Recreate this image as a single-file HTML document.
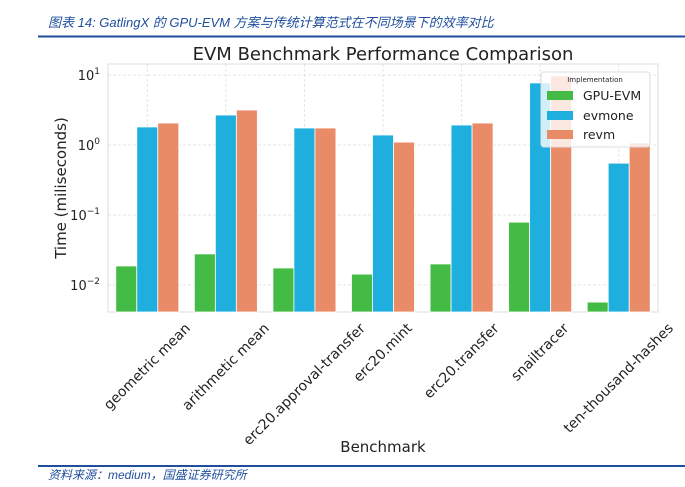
<!DOCTYPE html>
<html><head><meta charset="utf-8"><style>
body{margin:0;background:#fff;width:685px;height:487px;overflow:hidden}
svg{display:block}
</style></head><body>
<svg id="chart" width="685" height="487" xmlns="http://www.w3.org/2000/svg">
<text x="48" y="27" font-family="'Liberation Sans','Noto Sans CJK SC',sans-serif" font-size="13" font-style="italic" fill="#1f4e9c">图表 14:  GatlingX 的 GPU-EVM 方案与传统计算范式在不同场景下的效率对比</text>
<line x1="38" y1="36.5" x2="685" y2="36.5" stroke="#1f4e9c" stroke-width="2"/>
<line x1="38" y1="466" x2="685" y2="466" stroke="#1f4e9c" stroke-width="2"/>
<text x="48" y="479" font-family="'Liberation Sans','Noto Sans CJK SC',sans-serif" font-size="12" font-style="italic" fill="#1f4e9c">资料来源：medium，国盛证券研究所</text>
<text x="383" y="60" text-anchor="middle" font-family="'DejaVu Sans',sans-serif" font-size="18" fill="#222">EVM Benchmark Performance Comparison</text>
<rect x="108" y="64" width="550" height="248" fill="#fff" stroke="#ddd"/>
<g id="grid"></g><g id="bars"></g><g id="axes"></g>
<text x="383" y="452" text-anchor="middle" font-family="'DejaVu Sans',sans-serif" font-size="15" fill="#222">Benchmark</text>
<text transform="translate(66,188) rotate(-90)" text-anchor="middle" font-family="'DejaVu Sans',sans-serif" font-size="15" fill="#222">Time (miliseconds)</text>
<g>
<rect x="541" y="72" width="109" height="75" rx="3" fill="#fff" fill-opacity="0.8" stroke="#ddd"/>
<text x="595" y="82" text-anchor="middle" font-family="'DejaVu Sans',sans-serif" font-size="7" fill="#222">Implementation</text>
<rect x="547" y="91" width="26" height="9" fill="#44bb44"/>
<text x="583" y="100" font-family="'DejaVu Sans',sans-serif" font-size="12.5" fill="#222">GPU-EVM</text>
<rect x="547" y="111" width="26" height="9" fill="#1fafdf"/>
<text x="583" y="120" font-family="'DejaVu Sans',sans-serif" font-size="12.5" fill="#222">evmone</text>
<rect x="547" y="130" width="26" height="9" fill="#ea8b68"/>
<text x="583" y="139" font-family="'DejaVu Sans',sans-serif" font-size="12.5" fill="#222">revm</text>
</g>
</svg>
<script>
const categories=["geometric mean","arithmetic mean","erc20.approval-transfer","erc20.mint","erc20.transfer","snailtracer","ten-thousand-hashes"];
const gpuEvm=[0.0187,0.0278,0.0175,0.0143,0.020,0.079,0.0057];
const evmone=[1.81,2.68,1.75,1.39,1.93,7.7,0.55];
const revm=[2.06,3.16,1.75,1.10,2.06,9.7,1.07];
const yTicks=[-2,-1,0,1];
const NS="http://www.w3.org/2000/svg";
const L=108,R=658,T=64,B=312;
function y(v){return 145-70*Math.log10(v);}
const gw=(R-L)/categories.length;
function cx(i){return L+gw*(i+0.5);}
function mk(tag,attrs,parent){const e=document.createElementNS(NS,tag);for(const k in attrs)e.setAttribute(k,attrs[k]);parent.appendChild(e);return e;}
const grid=document.getElementById('grid'),bars=document.getElementById('bars'),axes=document.getElementById('axes');
yTicks.forEach(p=>{const yy=y(Math.pow(10,p));
 const ln=mk('line',{x1:L,x2:R,y1:yy,y2:yy,stroke:'#e4e4e4','stroke-dasharray':'3,2'},grid);
 
 
 const t=mk('text',{x:L-8,y:yy+5,'text-anchor':'end','font-family':"'DejaVu Sans',sans-serif",'font-size':'13',fill:'#222'},axes);
 
 
 t.textContent='10';
 const s=mk('tspan',{dy:'-6','font-size':'9'},t);s.textContent=String(p).replace('-','−');
});
const series=[[gpuEvm,'#44bb44','gpu-evm'],[evmone,'#1fafdf','evmone'],[revm,'#ea8b68','revm']];
const bw=21;
categories.forEach((c,i)=>{
 const vl=mk('line',{x1:cx(i),x2:cx(i),y1:T,y2:B,stroke:'#e4e4e4','stroke-dasharray':'3,2'},grid);
 
 
 series.forEach((s,j)=>{const v=s[0][i];const yy=y(v);
  const r=mk('rect',{x:cx(i)+(j-1.5)*bw,y:yy,width:bw,height:B-yy,fill:s[1],stroke:'#fff','stroke-width':'0.8'},bars);
  
  
 });
 const t=mk('text',{'text-anchor':'middle','font-family':"'DejaVu Sans',sans-serif",'font-size':'14',fill:'#222'},axes);
 
 
 t.textContent=c;
 const len=t.getComputedTextLength();
 const half=len*0.7071/2;
 t.setAttribute('transform',`translate(${cx(i)+3},${B+12+half+5}) rotate(-45)`);
});
</script>
</body></html>
